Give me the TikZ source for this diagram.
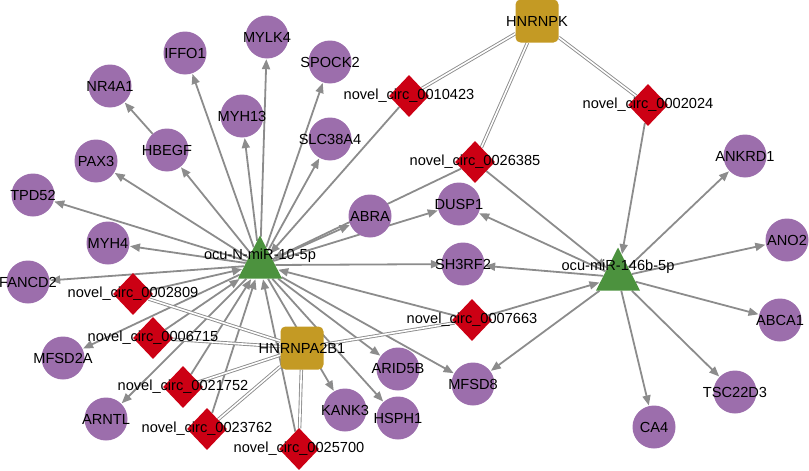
\documentclass[tikz,border=0pt]{standalone}
\usepackage{fontspec}
\setmainfont{Liberation Sans}
\usetikzlibrary{shapes.geometric,arrows.meta}
\pgfdeclarelayer{bg}
\pgfsetlayers{bg,main}
\definecolor{genec}{RGB}{156,110,172}
\definecolor{mirc}{RGB}{76,146,62}
\definecolor{circc}{RGB}{204,0,20}
\definecolor{rbpc}{RGB}{196,154,36}
\definecolor{edgec}{RGB}{140,140,140}
\begin{document}
\begin{tikzpicture}[x=1pt,y=-1pt,
 gene/.style={circle,fill=genec,minimum size=43pt,inner sep=0pt},
 circrna/.style={diamond,fill=circc,minimum width=40pt,minimum height=42pt,inner sep=0pt},
 rbp/.style={rectangle,rounded corners=5pt,fill=rbpc,minimum size=43pt,inner sep=0pt},
 mirna/.style={isosceles triangle,isosceles triangle stretches,shape border rotate=90,fill=mirc,minimum width=44pt,minimum height=43pt,inner sep=0pt,anchor=apex},
 lbl/.style={font=\fontsize{14.6}{16}\selectfont,inner sep=0pt,text=black},
 arr/.style={draw=edgec,line width=1.8pt,-{Triangle[length=10pt,width=8pt]},shorten >=0.5pt},
 dbl/.style={draw=edgec,line width=0.9pt,double=white,double distance=1.6pt}
]
\useasboundingbox (0,0) rectangle (809,471);
% genes
\foreach \n/\x/\y in {IFFO1/185/53, MYLK4/267/37, SPOCK2/330/62, NR4A1/110/86,
  MYH13/242/116, SLC38A4/330/139, HBEGF/167/150, PAX3/96/161, TPD52/33/195,
  ABRA/370/216, MYH4/108/243, FANCD2/28/282, MFSD2A/63/358, ARNTL/106/419,
  KANK3/345/410, ARID5B/398/369, HSPH1/398/418, DUSP1/459/204, SH3RF2/463/264,
  MFSD8/473/384, ANKRD1/745/156, ANO2/787/240, ABCA1/780/320, TSC22D3/735/392,
  CA4/654/427}
  \node[gene] (\n) at (\x,\y) {};
% circRNAs
\foreach \n/\x/\y in {0010423/409/96, 0002024/648/105, 0026385/475/162,
  0002809/133/294, 0006715/153/338, 0021752/183/387, 0023762/207/429,
  0025700/299/449, 0007663/472/320}
  \node[circrna] (c\n) at (\x,\y) {};
% RBPs
\node[rbp] (HNRNPK) at (537,21) {};
\node[rbp] (HNRNPA2B1) at (302,348) {};
% miRNAs
\node[mirna] (N10) at (260,235) {};
\node[mirna] (M146) at (618,247) {};
% edges
\begin{pgfonlayer}{bg}
\foreach \t in {IFFO1,MYLK4,SPOCK2,MYH13,SLC38A4,HBEGF,PAX3,TPD52,MYH4,FANCD2,
  MFSD2A,ARNTL,ABRA,DUSP1,SH3RF2,MFSD8,ARID5B,HSPH1,KANK3}
  \draw[arr] (N10) -- (\t);
\draw[arr] (HBEGF) -- (NR4A1);
\foreach \t in {ANKRD1,ANO2,ABCA1,TSC22D3,CA4,MFSD8,SH3RF2,DUSP1}
  \draw[arr] (M146) -- (\t);
\foreach \s in {0010423,0026385,0007663,0002809,0006715,0021752,0023762,0025700}
  \draw[arr] (c\s) -- (N10);
\foreach \s in {0002024,0026385,0007663}
  \draw[arr] (c\s) -- (M146);
\foreach \s in {0010423,0026385,0002024}
  \draw[dbl] (HNRNPK) -- (c\s);
\foreach \s in {0002809,0006715,0021752,0023762,0025700,0007663}
  \draw[dbl] (HNRNPA2B1) -- (c\s);
\end{pgfonlayer}
% labels
\foreach \n in {IFFO1,MYLK4,SPOCK2,NR4A1,MYH13,SLC38A4,HBEGF,PAX3,TPD52,
  ABRA,MYH4,FANCD2,MFSD2A,ARNTL,KANK3,ARID5B,HSPH1,DUSP1,SH3RF2,
  MFSD8,ANKRD1,ANO2,ABCA1,TSC22D3,CA4,HNRNPK,HNRNPA2B1}
  \node[lbl] (\n-t) at (\n) {\n};
\foreach \n in {0010423,0002024,0026385,0002809,0006715,0021752,0023762,0025700,0007663}
  \node[lbl] (c\n-t) at (c\n) {novel\_circ\_\n};
\node[lbl] (N10-t) at (260,256) {ocu-N-miR-10-5p};
\node[lbl] (M146-t) at (618,267) {ocu-miR-146b-5p};
\end{tikzpicture}
\end{document}
